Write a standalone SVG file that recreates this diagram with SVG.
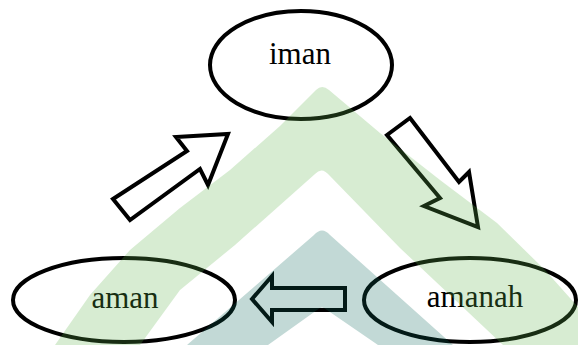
<svg xmlns="http://www.w3.org/2000/svg" width="578" height="345" viewBox="0 0 578 345">
  <style>
    .node ellipse { fill: #ffffff; stroke: #000000; stroke-width: 4; }
    .node text { font-family: "Liberation Serif", "Times New Roman", serif; font-size: 31px; fill: #000000; text-anchor: middle; }
    .flow { fill: #ffffff; stroke: #000000; stroke-width: 4; stroke-linejoin: miter; stroke-miterlimit: 10; }
    .mark-green { fill: #5fb34b; fill-opacity: 0.25; }
    .mark-teal { fill: #0b675b; fill-opacity: 0.25; }
  </style>

  <rect width="578" height="345" fill="#ffffff"/>

  <!-- nodes -->
  <g id="node-iman" class="node">
    <ellipse cx="301" cy="65" rx="91" ry="54"/>
    <text x="300" y="64">iman</text>
  </g>
  <g id="node-aman" class="node">
    <ellipse cx="124" cy="300" rx="111" ry="42"/>
    <text x="125" y="308">aman</text>
  </g>
  <g id="node-amanah" class="node">
    <ellipse cx="470" cy="300" rx="106" ry="42"/>
    <text x="475" y="307">amanah</text>
  </g>

  <!-- block arrows between the nodes -->
  <g id="connectors">
    <!-- aman to iman -->
    <polygon class="flow" points="113,199 187,151 176,137 228,134 208,185 200,169 130,220"/>
    <!-- iman to amanah -->
    <polygon class="flow" points="410,118 459,182 469,172 478,227 424,206 440,198 387,135"/>
    <!-- amanah to aman -->
    <polygon class="flow" points="252,299 272,276 272,288 345,288 345,310 272,310 272,322"/>
  </g>

  <!-- translucent chevron mark laid over the page -->
  <g id="watermark">
    <path class="mark-green" d="M55,345 L90,295 L130,250 L180,208 L230,170 L280,126 L316,90 Q322,84 329,90 L380,133 L440,180 L497,223 L545,270 L578,307 L612,345
             L503,345 L400,248 L330,176 Q322,166 315,174 L235,245 L180,290 L140,345 Z"/>
    <path class="mark-teal" d="M187,345 L314,235 Q322,226 330,235 L453,345 L378,345 L327,310 Q322,305 317,310 L268,345 Z"/>
  </g>
</svg>
